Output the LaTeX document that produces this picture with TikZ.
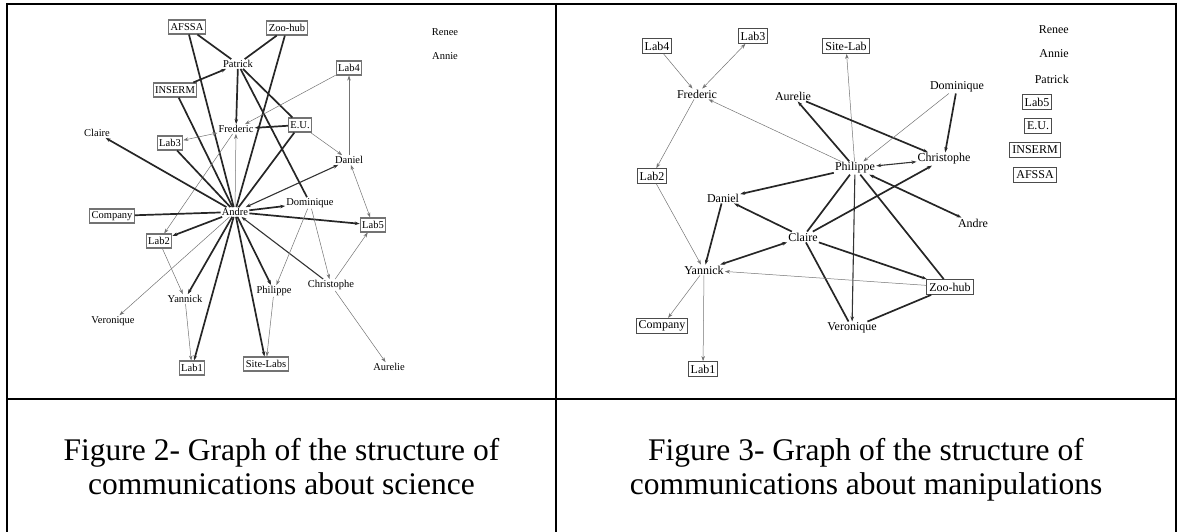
\documentclass[tikz,border=0pt]{standalone}
\usepackage{fontspec}
\setmainfont{Liberation Serif}
\usetikzlibrary{arrows.meta}
\begin{document}
\begin{tikzpicture}[x=1pt,y=-1pt,
  lt/.style={inner sep=1pt,font=\fontsize{10.5}{11}\selectfont},
  lbox/.style={lt,draw=black!55,line width=1.1pt,inner sep=2pt,minimum height=14pt},
  rt/.style={inner sep=1pt,font=\fontsize{12}{13}\selectfont},
  rbox/.style={rt,draw=black!70,line width=0.8pt,inner sep=2.5pt,minimum height=15pt},
  K/.style={line width=1.7pt,black!85},
  M/.style={line width=1.1pt,black!80},
  T/.style={line width=0.5pt,black!55},
  >={Stealth[length=5pt,width=3.5pt]},
  frameline/.style={line width=2pt,black},
  captext/.style={font=\fontsize{31.5}{34}\selectfont,anchor=base,inner sep=0pt}]
\useasboundingbox (0,0) rectangle (1182,532);
% table frame
\draw[frameline] (7,4) -- (1176,4);
\draw[frameline] (7,399) -- (1176,399);
\draw[frameline] (7,3) -- (7,532);
\draw[frameline] (556,3) -- (556,532);
\draw[frameline] (1176,3) -- (1176,532);
\node[captext] (cap2a) at (281.5,460.5) {Figure 2- Graph of the structure of};
\node[captext] (cap2b) at (281.5,494) {communications about science};
\node[captext] (cap3a) at (866,460.5) {Figure 3- Graph of the structure of};
\node[captext] (cap3b) at (866,494) {communications about manipulations};

% ---------- left graph ----------
\node[lbox] (lAFSSA) at (187,27) {AFSSA};
\node[lbox] (lZoo) at (287,28) {Zoo-hub};
\node[lt] (lPatrick) at (238,64) {Patrick};
\node[lbox] (lINSERM) at (175,90) {INSERM};
\node[lbox] (lLab4) at (349,68) {Lab4};
\node[lt] (lClaire) at (97,133) {Claire};
\node[lt] (lFrederic) at (236,129) {Frederic};
\node[lbox] (lLab3) at (170,143) {Lab3};
\node[lbox] (lEU) at (300,125) {E.U.};
\node[lt] (lDaniel) at (349,160) {Daniel};
\node[lt] (lAndre) at (235,212) {Andre};
\node[lt] (lDominique) at (310,203) {Dominique};
\node[lbox] (lCompany) at (112,216) {Company};
\node[lbox] (lLab5) at (373,225) {Lab5};
\node[lbox] (lLab2) at (159,241) {Lab2};
\node[lt] (lYannick) at (185,299) {Yannick};
\node[lt] (lPhilippe) at (274,291) {Philippe};
\node[lt] (lChristophe) at (331,285) {Christophe};
\node[lt] (lVeronique) at (113,321) {Veronique};
\node[lbox] (lLab1) at (192,368) {Lab1};
\node[lbox] (lSite) at (266,364) {Site-Labs};
\node[lt] (lAurelie) at (389,367) {Aurelie};
\node[lt] (lRenee) at (445,32) {Renee};
\node[lt] (lAnnie) at (445,56) {Annie};

\draw[K] (lAFSSA) -- (lPatrick);
\draw[K] (lZoo) -- (lPatrick);
\draw[K] (lAFSSA) -- (lAndre);
\draw[K] (lZoo) -- (lAndre);
\draw[K,->] (lINSERM) -- (lPatrick);
\draw[K] (lINSERM) -- (lAndre);
\draw[K,->] (lPatrick) -- (lFrederic);
\draw[K] (lPatrick) -- (lEU);
\draw[K] (lPatrick) -- (lDominique);
\draw[K,<-] (lFrederic) -- (lEU);
\draw[T,->] (lAndre) -- (lFrederic);
\draw[T,<->] (lFrederic) -- (lLab3);
\draw[T,->] (lFrederic) -- (lLab2);
\draw[T,->] (lLab4) -- (lFrederic);
\draw[K,->] (lAndre) -- (lClaire);
\draw[K] (lLab3) -- (lAndre);
\draw[K] (lEU) -- (lAndre);
\draw[T,->] (lEU) -- (lDaniel);
\draw[T,->] (lDaniel) -- (lLab4);
\draw[M,<->] (lAndre) -- (lDaniel);
\draw[T,<->] (lDaniel) -- (lLab5);
\draw[K,->] (lAndre) -- (lDominique);
\draw[K,->] (lAndre) -- (lLab5);
\draw[K] (lAndre) -- (lCompany);
\draw[K,->] (lAndre) -- (lLab2);
\draw[T,->] (lAndre) -- (lVeronique);
\draw[K,->] (lAndre) -- (lYannick);
\draw[K,->] (lAndre) -- (lLab1);
\draw[K,->] (lAndre) -- (lSite);
\draw[K,->] (lAndre) -- (lPhilippe);
\draw[M,->] (lChristophe) -- (lAndre);
\draw[T,->] (lDominique) -- (lPhilippe);
\draw[T,->] (lDominique) -- (lChristophe);
\draw[T,->] (lChristophe) -- (lLab5);
\draw[T,->] (lChristophe) -- (lAurelie);
\draw[T,->] (lLab2) -- (lYannick);
\draw[T,->] (lYannick) -- (lLab1);
\draw[T,->] (lPhilippe) -- (lSite);

% ---------- right graph ----------
\node[rbox] (rLab4) at (657,46) {Lab4};
\node[rbox] (rLab3) at (753,36) {Lab3};
\node[rbox] (rSite) at (846,46) {Site-Lab};
\node[rt] (rFrederic) at (697,94) {Frederic};
\node[rt] (rAurelie) at (793,96) {Aurelie};
\node[rt] (rDominique) at (957,87) {Dominique};
\node[rt,anchor=east] (rRenee) at (1070,30) {Renee};
\node[rt,anchor=east] (rAnnie) at (1070,54) {Annie};
\node[rt,anchor=east] (rPatrick) at (1070,79) {Patrick};
\node[rbox] (rLab5) at (1037,102) {Lab5};
\node[rbox] (rEU) at (1038,126) {E.U.};
\node[rbox] (rINSERM) at (1035,150) {INSERM};
\node[rbox] (rAFSSA) at (1035,175) {AFSSA};
\node[rt] (rChristophe) at (944,159) {Christophe};
\node[rt] (rPhilippe) at (855,168) {Philippe};
\node[rbox] (rLab2) at (652,176) {Lab2};
\node[rt] (rDaniel) at (723,198) {Daniel};
\node[rt] (rClaire) at (803,237) {Claire};
\node[rt] (rAndre) at (973,223) {Andre};
\node[rt] (rYannick) at (704,270) {Yannick};
\node[rbox] (rZoo) at (950,287) {Zoo-hub};
\node[rt] (rVeronique) at (852,328) {Veronique};
\node[rbox] (rCompany) at (662,326) {Company};
\node[rbox] (rLab1) at (703,369) {Lab1};

\draw[T,->] (rLab4) -- (rFrederic);
\draw[T,<->] (rLab3) -- (rFrederic);
\draw[T,->] (rPhilippe) -- (rFrederic);
\draw[T,->] (rFrederic) -- (rLab2);
\draw[T,->] (rLab2) -- (rYannick);
\draw[T,->] (rPhilippe) -- (rSite);
\draw[M,->] (rPhilippe) -- (rVeronique);
\draw[K,->] (rPhilippe) -- (rAurelie);
\draw[K,->] (rAurelie) -- (rChristophe);
\draw[T,->] (rDominique) -- (rPhilippe);
\draw[K,->] (rDominique) -- (rChristophe);
\draw[M,<->] (rPhilippe) -- (rChristophe);
\draw[K,->] (rPhilippe) -- (rDaniel);
\draw[K,<->] (rPhilippe) -- (rAndre);
\draw[K] (rClaire) -- (rPhilippe);
\draw[K,->] (rClaire) -- (rChristophe);
\draw[K] (rPhilippe) -- (rZoo);
\draw[K,->] (rClaire) -- (rDaniel);
\draw[K,->] (rDaniel) -- (rYannick);
\draw[K,<->] (rClaire) -- (rYannick);
\draw[K,->] (rClaire) -- (rZoo);
\draw[K] (rClaire) -- (rVeronique);
\draw[T,->] (rZoo) -- (rYannick);
\draw[K] (rZoo) -- (rVeronique);
\draw[T,->] (rYannick) -- (rCompany);
\draw[T,->] (rYannick) -- (rLab1);
\end{tikzpicture}
\end{document}
